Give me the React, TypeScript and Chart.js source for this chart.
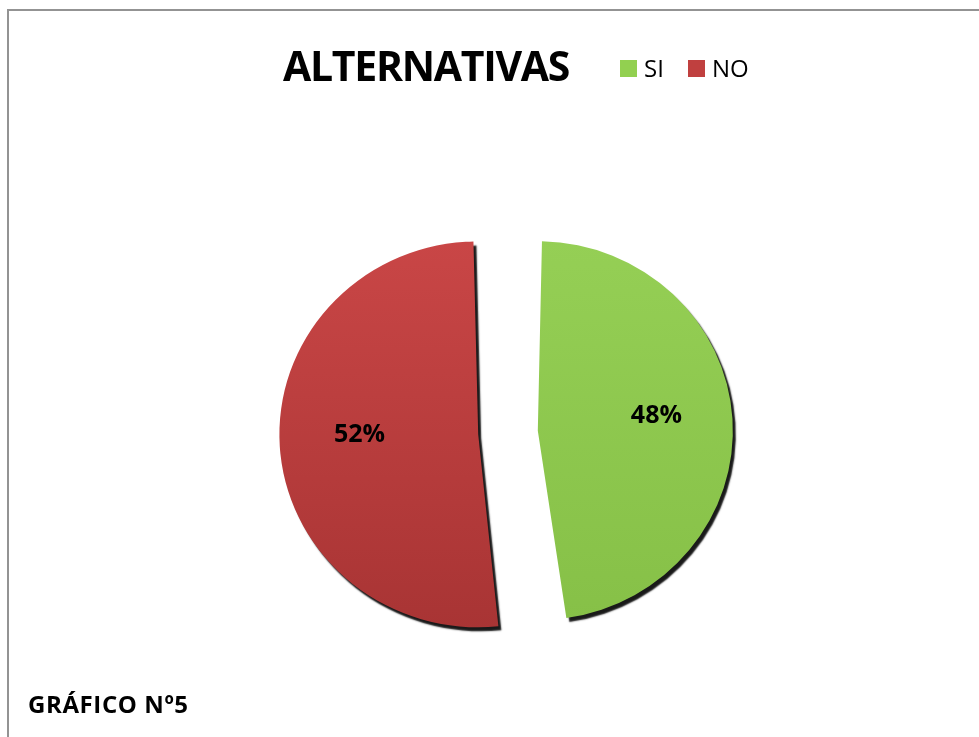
import React, { useEffect, useRef } from "react";
import { Chart, registerables } from "chart.js";

Chart.register(...registerables);

const categories = ["SI", "NO"];
const values = [48, 52];
const colorsTop = ["#95CF55", "#C94646"];
const colorsBottom = ["#86C047", "#A83434"];
const legendColors = ["#92D050", "#C0403F"];
const titleText = "ALTERNATIVAS";
const footerText = "GRÁFICO Nº5";

const shadowPlugin = {
  id: "pieShadow",
  beforeDatasetsDraw(chart: any) {
    const ctx = chart.ctx;
    const a = chart.chartArea;
    const cx = (a.left + a.right) / 2;
    const cy = (a.top + a.bottom) / 2;
    ctx.save();
    // slight horizontal stretch to mimic the tilted 3D pie of the original
    ctx.translate(cx, cy);
    ctx.scale(1.03, 1);
    ctx.translate(-cx, -cy);
    ctx.shadowColor = "rgba(0,0,0,0.9)";
    ctx.shadowOffsetX = 3;
    ctx.shadowOffsetY = 4;
    ctx.shadowBlur = 1.5;
  },
  afterDatasetsDraw(chart: any) {
    chart.ctx.restore();
  },
};

const labelPlugin = {
  id: "pctLabels",
  afterDraw(chart: any) {
    const ctx = chart.ctx;
    const meta = chart.getDatasetMeta(0);
    const data = chart.data.datasets[0].data as number[];
    const total = data.reduce((a, b) => a + b, 0);
    ctx.save();
    ctx.font = "bold 25px 'Open Sans'";
    ctx.fillStyle = "#000";
    ctx.textAlign = "center";
    ctx.textBaseline = "middle";
    meta.data.forEach((arc: any, i: number) => {
      const p = arc.getProps(["x", "y", "startAngle", "endAngle", "outerRadius"], true);
      const mid = (p.startAngle + p.endAngle) / 2;
      const off = (arc.options.offset || 0) / 4;
      const r = p.outerRadius * 0.73;
      const x = p.x + Math.cos(mid) * (off + r);
      const y = p.y + Math.sin(mid) * (off + r) - 7;
      ctx.fillText(Math.round((data[i] / total) * 100) + "%", x, y);
    });
    ctx.restore();
  },
};

function PieChart() {
  const ref = useRef<HTMLCanvasElement | null>(null);
  useEffect(() => {
    if (!ref.current) return;
    const chart = new Chart(ref.current, {
      type: "pie",
      data: {
        labels: categories,
        datasets: [
          {
            data: values,
            backgroundColor: (c: any) => {
              const g = c.chart.ctx.createLinearGradient(0, 240, 0, 630);
              g.addColorStop(0, colorsTop[c.dataIndex]);
              g.addColorStop(1, colorsBottom[c.dataIndex]);
              return g;
            },
            borderWidth: 0,
            offset: 116,
          },
        ],
      },
      options: {
        animation: false,
        responsive: false,
        radius: 164,
        layout: { padding: { left: 37, right: 0, top: 128, bottom: 0 } },
        plugins: {
          legend: { display: false },
          tooltip: { enabled: false },
          title: { display: false },
        },
      },
      plugins: [shadowPlugin, labelPlugin],
    });
    return () => chart.destroy();
  }, []);
  return (
    <canvas
      ref={ref}
      width={979}
      height={737}
      style={{ position: "absolute", left: 0, top: 0, width: 979, height: 737 }}
    />
  );
}

export default function App() {
  return (
    <div
      style={{
        position: "fixed",
        left: 0,
        top: 0,
        width: 979,
        height: 737,
        overflow: "hidden",
        background: "#fff",
        fontFamily: "'Open Sans', sans-serif",
      }}
    >
      <div
        style={{
          position: "absolute",
          left: 7,
          top: 9,
          width: 1100,
          height: 900,
          border: "2px solid #939393",
          boxSizing: "border-box",
        }}
      />
      <PieChart />
      <div
        style={{
          position: "absolute",
          left: 283,
          top: 40,
          fontSize: 41,
          fontWeight: 700,
          letterSpacing: -1.3,
          lineHeight: "50px",
          color: "#000",
          whiteSpace: "nowrap",
        }}
      >
        {titleText}
      </div>
      <div
        style={{
          position: "absolute",
          left: 620,
          top: 52,
          display: "flex",
          alignItems: "center",
          fontSize: 24,
          lineHeight: "32px",
          whiteSpace: "nowrap",
        }}
      >
        {categories.map((c, i) => (
          <div key={c} style={{ display: "flex", alignItems: "center", marginRight: 24 }}>
            <span
              style={{
                display: "inline-block",
                width: 17,
                height: 17,
                background: legendColors[i],
                marginRight: 7,
              }}
            />
            <span>{c}</span>
          </div>
        ))}
      </div>
      <div
        style={{
          position: "absolute",
          left: 28,
          top: 688,
          fontSize: 24,
          fontWeight: 700,
          letterSpacing: 0.6,
          lineHeight: "32px",
          whiteSpace: "nowrap",
        }}
      >
        {footerText}
      </div>
    </div>
  );
}
